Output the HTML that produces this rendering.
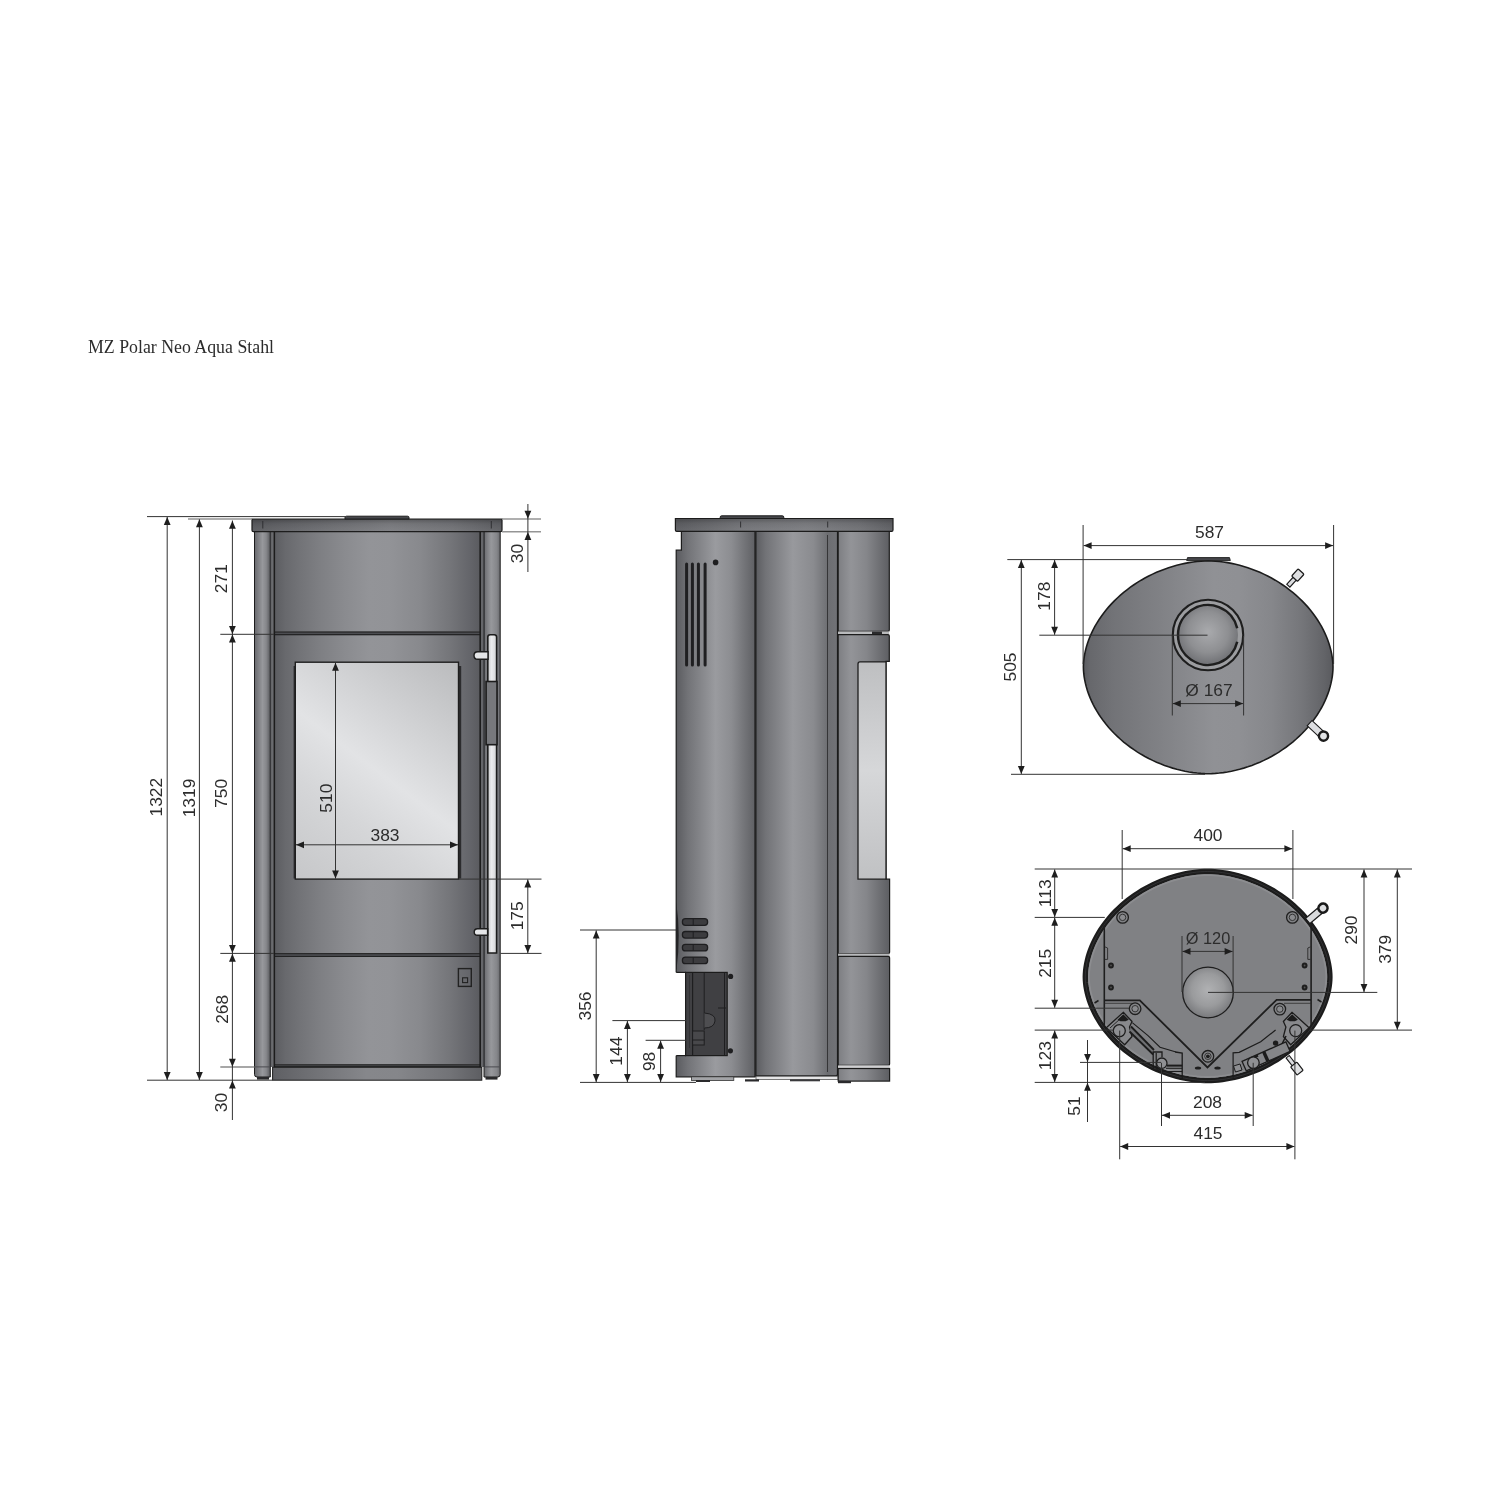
<!DOCTYPE html><html><head><meta charset="utf-8"><title>MZ Polar Neo Aqua Stahl</title>
<style>html,body{margin:0;padding:0;background:#fff;}svg{display:block;}text{font-family:"Liberation Sans",sans-serif;fill:#2c2c2c;}</style></head><body>
<svg style="will-change:transform" width="1500" height="1500" viewBox="0 0 1500 1500">
<rect width="1500" height="1500" fill="#fff"/>
<defs>
<linearGradient id="gPanel" gradientUnits="userSpaceOnUse" x1="275" y1="0" x2="480" y2="0">
<stop offset="0" stop-color="#5c5d61"/>
<stop offset="0.05" stop-color="#68696d"/>
<stop offset="0.12" stop-color="#727377"/>
<stop offset="0.22" stop-color="#7e7f83"/>
<stop offset="0.34" stop-color="#8a8b8f"/>
<stop offset="0.46" stop-color="#939498"/>
<stop offset="0.56" stop-color="#929397"/>
<stop offset="0.71" stop-color="#88898d"/>
<stop offset="0.85" stop-color="#75767a"/>
<stop offset="0.95" stop-color="#64656a"/>
<stop offset="1" stop-color="#5a5b5f"/>
</linearGradient>
<linearGradient id="gLegL" gradientUnits="userSpaceOnUse" x1="255" y1="0" x2="270" y2="0">
<stop offset="0" stop-color="#6a6b6f"/>
<stop offset="0.5" stop-color="#97989c"/>
<stop offset="0.75" stop-color="#86878b"/>
<stop offset="1" stop-color="#5c5d61"/>
</linearGradient>
<linearGradient id="gLegR" gradientUnits="userSpaceOnUse" x1="484" y1="0" x2="500" y2="0">
<stop offset="0" stop-color="#6a6b6f"/>
<stop offset="0.45" stop-color="#97989c"/>
<stop offset="0.8" stop-color="#85868a"/>
<stop offset="1" stop-color="#6a6b6f"/>
</linearGradient>
<linearGradient id="gCap" gradientUnits="userSpaceOnUse" x1="252" y1="0" x2="502" y2="0">
<stop offset="0" stop-color="#5a5b5f"/>
<stop offset="0.3" stop-color="#6e6f73"/>
<stop offset="0.55" stop-color="#7c7d81"/>
<stop offset="0.8" stop-color="#727377"/>
<stop offset="1" stop-color="#5d5e62"/>
</linearGradient>
<linearGradient id="gPlinth" gradientUnits="userSpaceOnUse" x1="272" y1="0" x2="482" y2="0">
<stop offset="0" stop-color="#5e5f63"/>
<stop offset="0.15" stop-color="#6c6d71"/>
<stop offset="0.45" stop-color="#86878b"/>
<stop offset="0.6" stop-color="#85868a"/>
<stop offset="0.85" stop-color="#727377"/>
<stop offset="1" stop-color="#5d5e62"/>
</linearGradient>
<linearGradient id="gRear" gradientUnits="userSpaceOnUse" x1="676" y1="0" x2="755" y2="0">
<stop offset="0" stop-color="#5a5b5f"/>
<stop offset="0.15" stop-color="#727377"/>
<stop offset="0.5" stop-color="#9a9b9f"/>
<stop offset="0.7" stop-color="#8c8d91"/>
<stop offset="1" stop-color="#5f6064"/>
</linearGradient>
<linearGradient id="gMid" gradientUnits="userSpaceOnUse" x1="756" y1="0" x2="838" y2="0">
<stop offset="0" stop-color="#5c5d61"/>
<stop offset="0.12" stop-color="#727377"/>
<stop offset="0.45" stop-color="#98999d"/>
<stop offset="0.7" stop-color="#8a8b8f"/>
<stop offset="0.85" stop-color="#727377"/>
<stop offset="0.87" stop-color="#6c6d71"/>
<stop offset="1" stop-color="#727377"/>
</linearGradient>
<linearGradient id="gFront" gradientUnits="userSpaceOnUse" x1="838" y1="0" x2="890" y2="0">
<stop offset="0" stop-color="#7d7e82"/>
<stop offset="0.25" stop-color="#939498"/>
<stop offset="0.55" stop-color="#85868a"/>
<stop offset="1" stop-color="#5c5d61"/>
</linearGradient>
<linearGradient id="gSideCap" gradientUnits="userSpaceOnUse" x1="675" y1="0" x2="893" y2="0">
<stop offset="0" stop-color="#5c5d61"/>
<stop offset="0.3" stop-color="#747579"/>
<stop offset="0.6" stop-color="#7c7d81"/>
<stop offset="0.85" stop-color="#707175"/>
<stop offset="1" stop-color="#5e5f63"/>
</linearGradient>
<linearGradient id="gTop" gradientUnits="userSpaceOnUse" x1="1083" y1="0" x2="1334" y2="0">
<stop offset="0" stop-color="#5a5b5f"/>
<stop offset="0.03" stop-color="#67686c"/>
<stop offset="0.12" stop-color="#727377"/>
<stop offset="0.25" stop-color="#7c7d81"/>
<stop offset="0.4" stop-color="#87888c"/>
<stop offset="0.52" stop-color="#909195"/>
<stop offset="0.62" stop-color="#8f9094"/>
<stop offset="0.75" stop-color="#86878b"/>
<stop offset="0.87" stop-color="#75767a"/>
<stop offset="0.96" stop-color="#636468"/>
<stop offset="1" stop-color="#58595d"/>
</linearGradient>
<radialGradient id="gFlue" cx="1208" cy="632" r="34" gradientUnits="userSpaceOnUse"><stop offset="0" stop-color="#a9aaad"/><stop offset="0.6" stop-color="#8e8f92"/><stop offset="1" stop-color="#6c6d71"/></radialGradient>
<radialGradient id="gHole" cx="1208" cy="990" r="27" gradientUnits="userSpaceOnUse"><stop offset="0" stop-color="#b0b1b3"/><stop offset="0.6" stop-color="#9a9b9d"/><stop offset="1" stop-color="#7b7c7f"/></radialGradient>
<linearGradient id="gGlass" gradientUnits="userSpaceOnUse" x1="295" y1="879" x2="458" y2="662"><stop offset="0" stop-color="#c6c7c9"/><stop offset="0.3" stop-color="#d5d6d8"/><stop offset="0.5" stop-color="#e2e3e5"/><stop offset="0.7" stop-color="#d2d3d5"/><stop offset="1" stop-color="#babbbd"/></linearGradient>
<linearGradient id="gGlassS" gradientUnits="userSpaceOnUse" x1="0" y1="662" x2="0" y2="879"><stop offset="0" stop-color="#bebfc1"/><stop offset="0.5" stop-color="#d6d7d9"/><stop offset="1" stop-color="#c0c1c3"/></linearGradient>
<linearGradient id="gHandle" gradientUnits="userSpaceOnUse" x1="488" y1="0" x2="497" y2="0"><stop offset="0" stop-color="#c9cacc"/><stop offset="0.4" stop-color="#ececee"/><stop offset="1" stop-color="#cfd0d2"/></linearGradient>
<linearGradient id="gCapV" x1="0" y1="0" x2="0" y2="1"><stop offset="0" stop-color="#000" stop-opacity="0.22"/><stop offset="0.35" stop-color="#000" stop-opacity="0.05"/><stop offset="1" stop-color="#fff" stop-opacity="0.04"/></linearGradient>
</defs>
<text x="88" y="352.5" font-size="18" style="font-family:'Liberation Serif',serif" textLength="186" lengthAdjust="spacingAndGlyphs" fill="#222">MZ Polar Neo Aqua Stahl</text>
<g id="front">
<path d="M345,519.5 L345,517.5 Q345,516.2 346.5,516.2 L407.5,516.2 Q409,516.2 409,517.5 L409,519.5 Z" fill="#47484c" stroke="#1c1c1c" stroke-width="1"/>
<path d="M254.5,531 L270.3,531 L270.3,1077 L257,1077 Q254.5,1077 254.5,1074.5 Z" fill="url(#gLegL)" stroke="#1c1c1c" stroke-width="1"/>
<path d="M484,531 L500.2,531 L500.2,1074.5 Q500.2,1077 497.7,1077 L484,1077 Z" fill="url(#gLegR)" stroke="#1c1c1c" stroke-width="1"/>
<rect x="257" y="1077" width="12" height="2.6" fill="#2a2a2c"/>
<rect x="485.5" y="1077" width="12" height="2.6" fill="#2a2a2c"/>
<line x1="255" y1="1066.9" x2="270" y2="1066.9" stroke="#4a4b4f" stroke-width="1"/>
<line x1="484.5" y1="1066.9" x2="499.7" y2="1066.9" stroke="#4a4b4f" stroke-width="1"/>
<rect x="270.3" y="531" width="3.6" height="536" fill="#6a6b6f"/>
<rect x="480.2" y="531" width="3.8" height="536" fill="#65666a"/>
<line x1="270.6" y1="531" x2="270.6" y2="1067" stroke="#2a2a2c" stroke-width="0.8"/>
<line x1="483.8" y1="531" x2="483.8" y2="1067" stroke="#2a2a2c" stroke-width="0.8"/>
<rect x="274.5" y="531" width="205.7" height="100.8" fill="url(#gPanel)"/>
<rect x="274.5" y="635" width="205.7" height="318.3" fill="url(#gPanel)"/>
<rect x="274.5" y="956.8" width="205.7" height="107.6" fill="url(#gPanel)"/>
<rect x="274" y="631.5" width="206.5" height="3.7000000000000455" fill="#4c4d51"/>
<line x1="274" y1="632.0" x2="480.5" y2="632.0" stroke="#1c1c1c" stroke-width="1"/>
<line x1="274" y1="634.7" x2="480.5" y2="634.7" stroke="#1c1c1c" stroke-width="1"/>
<rect x="274" y="953.2" width="206.5" height="3.699999999999932" fill="#4c4d51"/>
<line x1="274" y1="953.7" x2="480.5" y2="953.7" stroke="#1c1c1c" stroke-width="1"/>
<line x1="274" y1="956.4" x2="480.5" y2="956.4" stroke="#1c1c1c" stroke-width="1"/>
<rect x="274" y="1064.3" width="206.5" height="3.0" fill="#4c4d51"/>
<line x1="274" y1="1064.8" x2="480.5" y2="1064.8" stroke="#1c1c1c" stroke-width="1"/>
<line x1="274" y1="1066.8" x2="480.5" y2="1066.8" stroke="#1c1c1c" stroke-width="1"/>
<line x1="274.3" y1="531" x2="274.3" y2="1067.3" stroke="#1c1c1c" stroke-width="1.6"/>
<line x1="480.2" y1="531" x2="480.2" y2="1067.3" stroke="#1c1c1c" stroke-width="1.6"/>
<rect x="272.6" y="1067.3" width="209.2" height="12.9" fill="url(#gPlinth)" stroke="#1c1c1c" stroke-width="1"/>
<path d="M252,519.2 L502,519.2 L502,530.3 Q502,531.7 500.6,531.7 L253.4,531.7 Q252,531.7 252,530.3 Z" fill="url(#gCap)" stroke="#1c1c1c" stroke-width="1.2"/>
<rect x="252.6" y="519.8" width="248.8" height="11.3" fill="url(#gCapV)"/>
<line x1="262.8" y1="521" x2="262.8" y2="528.5" stroke="#2a2a2c" stroke-width="0.9"/>
<line x1="491.3" y1="521" x2="491.3" y2="528.5" stroke="#2a2a2c" stroke-width="0.9"/>
<rect x="293.6" y="666" width="167.6" height="212.5" fill="#2c2c2e"/>
<rect x="295.3" y="662.2" width="163.2" height="216.9" fill="url(#gGlass)" stroke="#1e1e1e" stroke-width="1.4"/>
<path d="M487.8,953 L487.8,637 Q487.8,634.7 490.1,634.7 L494.3,634.7 Q496.6,634.7 496.6,637 L496.6,953 Z" fill="url(#gHandle)" stroke="#1c1c1c" stroke-width="1.6"/>
<rect x="486.1" y="681.5" width="10.9" height="63.2" fill="#77787c" stroke="#1c1c1c" stroke-width="1.6"/>
<path d="M488,651.8 L477.8,651.8 Q474,651.8 474,655.5 Q474,659.3 477.8,659.3 L488,659.3 Z" fill="#e4e5e7" stroke="#1c1c1c" stroke-width="1.4"/>
<path d="M487.6,928.7 L477.6,928.7 Q474.2,928.7 474.2,931.9 Q474.2,935.2 477.6,935.2 L487.6,935.2 Z" fill="#e4e5e7" stroke="#1c1c1c" stroke-width="1.4"/>
<rect x="458.4" y="968.6" width="12.9" height="17.8" fill="none" stroke="#222" stroke-width="1.4"/>
<rect x="462.6" y="977.8" width="5" height="4.8" fill="none" stroke="#222" stroke-width="1.1"/>
</g>
<line x1="147" y1="516.6" x2="345" y2="516.6" stroke="#333333" stroke-width="1.0"/>
<line x1="188" y1="519.0" x2="252" y2="519.0" stroke="#959595" stroke-width="1.4"/>
<line x1="220.3" y1="634.3" x2="274" y2="634.3" stroke="#333333" stroke-width="1.0"/>
<line x1="220.3" y1="953.4" x2="274" y2="953.4" stroke="#333333" stroke-width="1.0"/>
<line x1="220.3" y1="1067.0" x2="254.5" y2="1067.0" stroke="#8a8a8a" stroke-width="1.5"/>
<line x1="147" y1="1080.2" x2="272.6" y2="1080.2" stroke="#333333" stroke-width="1.0"/>
<line x1="502" y1="519.0" x2="541" y2="519.0" stroke="#959595" stroke-width="1.4"/>
<line x1="502" y1="531.8" x2="541" y2="531.8" stroke="#959595" stroke-width="1.4"/>
<line x1="458.5" y1="879.1" x2="541.5" y2="879.1" stroke="#333333" stroke-width="1.0"/>
<line x1="500.5" y1="953.4" x2="541.5" y2="953.4" stroke="#333333" stroke-width="1.0"/>
<line x1="167.2" y1="517.0" x2="167.2" y2="1080.0" stroke="#333333" stroke-width="1.0"/>
<path d="M167.20,517.00L170.60,525.00L163.80,525.00Z" fill="#1e1e1e"/>
<path d="M167.20,1080.00L163.80,1072.00L170.60,1072.00Z" fill="#1e1e1e"/>
<line x1="199.4" y1="519.3" x2="199.4" y2="1080.0" stroke="#333333" stroke-width="1.0"/>
<path d="M199.40,519.30L202.80,527.30L196.00,527.30Z" fill="#1e1e1e"/>
<path d="M199.40,1080.00L196.00,1072.00L202.80,1072.00Z" fill="#1e1e1e"/>
<line x1="232.4" y1="520.5" x2="232.4" y2="1120" stroke="#333333" stroke-width="1.0"/>
<path d="M232.40,520.80L235.80,528.80L229.00,528.80Z" fill="#1e1e1e"/>
<path d="M232.40,634.00L229.00,626.00L235.80,626.00Z" fill="#1e1e1e"/>
<path d="M232.40,634.60L235.80,642.60L229.00,642.60Z" fill="#1e1e1e"/>
<path d="M232.40,953.10L229.00,945.10L235.80,945.10Z" fill="#1e1e1e"/>
<path d="M232.40,953.70L235.80,961.70L229.00,961.70Z" fill="#1e1e1e"/>
<path d="M232.40,1066.80L229.00,1058.80L235.80,1058.80Z" fill="#1e1e1e"/>
<path d="M232.40,1080.40L235.80,1088.40L229.00,1088.40Z" fill="#1e1e1e"/>
<line x1="527.9" y1="504" x2="527.9" y2="572" stroke="#333333" stroke-width="1.0"/>
<path d="M527.90,518.80L524.50,510.80L531.30,510.80Z" fill="#1e1e1e"/>
<path d="M527.90,532.00L531.30,540.00L524.50,540.00Z" fill="#1e1e1e"/>
<line x1="527.8" y1="879.4" x2="527.8" y2="953.1" stroke="#333333" stroke-width="1.0"/>
<path d="M527.80,879.40L531.20,887.40L524.40,887.40Z" fill="#1e1e1e"/>
<path d="M527.80,953.10L524.40,945.10L531.20,945.10Z" fill="#1e1e1e"/>
<line x1="335.5" y1="662.8" x2="335.5" y2="878.6" stroke="#333333" stroke-width="1.0"/>
<path d="M335.50,662.80L338.90,670.80L332.10,670.80Z" fill="#1e1e1e"/>
<path d="M335.50,878.60L332.10,870.60L338.90,870.60Z" fill="#1e1e1e"/>
<line x1="296.0" y1="844.8" x2="458.0" y2="844.8" stroke="#333333" stroke-width="1.0"/>
<path d="M296.00,844.80L304.00,841.40L304.00,848.20Z" fill="#1e1e1e"/>
<path d="M458.00,844.80L450.00,848.20L450.00,841.40Z" fill="#1e1e1e"/>
<text transform="translate(161.6,797.2) rotate(-90)" text-anchor="middle" font-size="17.4">1322</text>
<text transform="translate(194.8,798.0) rotate(-90)" text-anchor="middle" font-size="17.4">1319</text>
<text transform="translate(227.2,793.4) rotate(-90)" text-anchor="middle" font-size="17.4">750</text>
<text transform="translate(227.3,578.7) rotate(-90)" text-anchor="middle" font-size="17.4">271</text>
<text transform="translate(227.5,1009.3) rotate(-90)" text-anchor="middle" font-size="17.4">268</text>
<text transform="translate(227.0,1102.6) rotate(-90)" text-anchor="middle" font-size="17.4">30</text>
<text transform="translate(522.8,553.5) rotate(-90)" text-anchor="middle" font-size="17.4">30</text>
<text transform="translate(523.2,915.8) rotate(-90)" text-anchor="middle" font-size="17.4">175</text>
<text transform="translate(332.1,798.2) rotate(-90)" text-anchor="middle" font-size="17.4">510</text>
<text x="385.0" y="840.5" text-anchor="middle" font-size="17.4">383</text>
<g id="side">
<path d="M720.2,519 L720.2,517.2 Q720.2,515.8 721.6,515.8 L782.4,515.8 Q783.8,515.8 783.8,517.2 L783.8,519 Z" fill="#47484c" stroke="#1c1c1c" stroke-width="1"/>
<path d="M681.4,531 L755,531 L755,1076.8 L676.2,1076.8 L676.2,550.2 L681.4,550.2 Z" fill="url(#gRear)" stroke="#1c1c1c" stroke-width="1.2"/>
<path d="M676.2,902 Q681,935 676.6,969 L676.2,969 Z" fill="#242426"/>
<rect x="674.4" y="972.4" width="11" height="83.2" fill="#fff"/>
<line x1="676.2" y1="972.4" x2="686" y2="972.4" stroke="#1c1c1c" stroke-width="1.2"/>
<line x1="676.2" y1="1055.6" x2="686" y2="1055.6" stroke="#1c1c1c" stroke-width="1.2"/>
<rect x="685.6" y="972.4" width="41.6" height="83.2" fill="#404043" stroke="#1c1c1c" stroke-width="1.2"/>
<line x1="692.6" y1="973" x2="692.6" y2="1055" stroke="#1e1e20" stroke-width="1.2"/>
<line x1="704.2" y1="973" x2="704.2" y2="1030" stroke="#1e1e20" stroke-width="1"/>
<line x1="724.5" y1="973" x2="724.5" y2="1055" stroke="#1e1e20" stroke-width="1"/>
<line x1="689.5" y1="975" x2="689.5" y2="1048" stroke="#2a2a2c" stroke-width="0.6"/>
<rect x="692.6" y="1031" width="11.6" height="14" fill="#48484b" stroke="#1e1e20" stroke-width="1"/>
<line x1="692.6" y1="1040" x2="704.2" y2="1040" stroke="#1e1e20" stroke-width="1"/>
<path d="M704.5,1013 Q716,1014 715,1021 Q714,1028 704.5,1028" fill="#4e4e51" stroke="#1e1e20" stroke-width="1"/>
<path d="M718,1008 L726,1008" stroke="#1e1e20" stroke-width="1"/>
<circle cx="730.6" cy="976.4" r="2.6" fill="#1e1e20"/>
<circle cx="730.4" cy="1050.8" r="2.6" fill="#1e1e20"/>
<circle cx="715.6" cy="562.4" r="2.8" fill="#1e1e20"/>
<rect x="685.1" y="562.6" width="3" height="104" rx="1.5" fill="#1f1f21"/>
<rect x="690.9" y="562.6" width="3" height="104" rx="1.5" fill="#1f1f21"/>
<rect x="696.9" y="562.6" width="3" height="104" rx="1.5" fill="#1f1f21"/>
<rect x="703.6" y="562.6" width="3" height="104" rx="1.5" fill="#1f1f21"/>
<rect x="682.4" y="918.7" width="25.2" height="6.6" rx="3" fill="#3c3c3f" stroke="#1e1e20" stroke-width="1.3"/>
<line x1="693.2" y1="919.0" x2="693.2" y2="925.0" stroke="#1e1e20" stroke-width="1"/>
<rect x="682.4" y="931.5" width="25.2" height="6.6" rx="3" fill="#3c3c3f" stroke="#1e1e20" stroke-width="1.3"/>
<line x1="693.2" y1="931.8" x2="693.2" y2="937.8" stroke="#1e1e20" stroke-width="1"/>
<rect x="682.4" y="944.3000000000001" width="25.2" height="6.6" rx="3" fill="#3c3c3f" stroke="#1e1e20" stroke-width="1.3"/>
<line x1="693.2" y1="944.6" x2="693.2" y2="950.6" stroke="#1e1e20" stroke-width="1"/>
<rect x="682.4" y="957.1" width="25.2" height="6.6" rx="3" fill="#3c3c3f" stroke="#1e1e20" stroke-width="1.3"/>
<line x1="693.2" y1="957.4" x2="693.2" y2="963.4" stroke="#1e1e20" stroke-width="1"/>
<rect x="691.4" y="1076.8" width="42.4" height="3.6" fill="#a3a4a7" stroke="#333" stroke-width="0.8"/>
<rect x="696" y="1080" width="14" height="2" fill="#2a2a2c"/>
<path d="M755.8,531 L837.6,531 L837.6,1074 Q837.6,1076 835.6,1076 L755.8,1076 Z" fill="url(#gMid)" stroke="#1c1c1c" stroke-width="1.4"/>
<line x1="827.5" y1="535" x2="827.5" y2="1072" stroke="#2f2f31" stroke-width="0.9"/>
<rect x="756" y="1076.2" width="82" height="3.3" fill="#e5e5e6" stroke="#444" stroke-width="0.7"/>
<rect x="745" y="1079.3" width="14" height="2.2" fill="#2a2a2c"/>
<rect x="790" y="1079.3" width="30" height="2" fill="#3a3a3c"/>
<path d="M838.2,531 L889.3,531 L889.3,630 Q889.3,631.4 887.9,631.4 L838.2,631.4 Z" fill="url(#gFront)" stroke="#1c1c1c" stroke-width="1.2"/>
<rect x="838.2" y="631.4" width="51" height="3.2" fill="#b9babc"/>
<rect x="872" y="631.6" width="10" height="2.8" fill="#2a2a2c"/>
<path d="M838.2,634.6 L887.9,634.6 Q889.3,634.6 889.3,636 L889.3,661.3 L886,661.3 L886,879.2 L889.6,879.2 L889.6,952.2 Q889.6,953.6 888.2,953.6 L838.2,953.6 Z" fill="url(#gFront)" stroke="#1c1c1c" stroke-width="1.2"/>
<path d="M860,661.9 L886,661.9 L886,879.2 L858,879.2 L858,663.9 Q858,661.9 860,661.9 Z" fill="url(#gGlassS)" stroke="#1e1e1e" stroke-width="1.3"/>
<rect x="838.2" y="953.6" width="51.4" height="2.8" fill="#b9babc"/>
<path d="M838.2,956.4 L888.2,956.4 Q889.6,956.4 889.6,957.8 L889.6,1064 Q889.6,1065.3 888.2,1065.3 L838.2,1065.3 Z" fill="url(#gFront)" stroke="#1c1c1c" stroke-width="1.2"/>
<rect x="838.2" y="1065.3" width="51.4" height="3.2" fill="#d0d0d2"/>
<rect x="838.2" y="1068.5" width="51.4" height="12.6" fill="url(#gFront)" stroke="#1c1c1c" stroke-width="1.2"/>
<rect x="838" y="1081" width="13" height="2.2" fill="#2a2a2c"/>
<path d="M675.4,518.5 L893,518.5 L893,530 Q893,531.3 891.7,531.3 L676.7,531.3 Q675.4,531.3 675.4,530 Z" fill="url(#gSideCap)" stroke="#1c1c1c" stroke-width="1.2"/>
<rect x="676" y="519.1" width="216.4" height="11.6" fill="url(#gCapV)"/>
<line x1="740.6" y1="521.5" x2="740.6" y2="527.5" stroke="#2a2a2c" stroke-width="0.9"/>
<line x1="827.7" y1="521.5" x2="827.7" y2="527.5" stroke="#2a2a2c" stroke-width="0.9"/>
</g>
<line x1="580" y1="930.0" x2="676.2" y2="930.0" stroke="#333333" stroke-width="1.0"/>
<line x1="612.4" y1="1020.6" x2="686" y2="1020.6" stroke="#333333" stroke-width="1.0"/>
<line x1="645.6" y1="1040.3" x2="686" y2="1040.3" stroke="#333333" stroke-width="1.0"/>
<line x1="580" y1="1082.4" x2="696" y2="1082.4" stroke="#333333" stroke-width="1.0"/>
<line x1="596.2" y1="930.4" x2="596.2" y2="1082.0" stroke="#333333" stroke-width="1.0"/>
<path d="M596.20,930.40L599.60,938.40L592.80,938.40Z" fill="#1e1e1e"/>
<path d="M596.20,1082.00L592.80,1074.00L599.60,1074.00Z" fill="#1e1e1e"/>
<line x1="627.4" y1="1021.0" x2="627.4" y2="1082.0" stroke="#333333" stroke-width="1.0"/>
<path d="M627.40,1021.00L630.80,1029.00L624.00,1029.00Z" fill="#1e1e1e"/>
<path d="M627.40,1082.00L624.00,1074.00L630.80,1074.00Z" fill="#1e1e1e"/>
<line x1="660.6" y1="1040.7" x2="660.6" y2="1082.0" stroke="#333333" stroke-width="1.0"/>
<path d="M660.60,1040.70L664.00,1048.70L657.20,1048.70Z" fill="#1e1e1e"/>
<path d="M660.60,1082.00L657.20,1074.00L664.00,1074.00Z" fill="#1e1e1e"/>
<text transform="translate(591.0,1006.0) rotate(-90)" text-anchor="middle" font-size="17.4">356</text>
<text transform="translate(621.6,1051.2) rotate(-90)" text-anchor="middle" font-size="17.4">144</text>
<text transform="translate(655.2,1061.4) rotate(-90)" text-anchor="middle" font-size="17.4">98</text>
<g id="top">
<path d="M1333.00,667.00 L1332.92,669.95 L1332.67,673.19 L1332.27,676.53 L1331.70,679.95 L1330.97,683.41 L1330.09,686.89 L1329.04,690.39 L1327.84,693.89 L1326.48,697.39 L1324.97,700.87 L1323.31,704.33 L1321.50,707.77 L1319.54,711.17 L1317.44,714.53 L1315.20,717.84 L1312.83,721.10 L1310.32,724.30 L1307.69,727.44 L1304.93,730.51 L1302.05,733.51 L1299.05,736.43 L1295.94,739.27 L1292.73,742.02 L1289.41,744.67 L1285.99,747.24 L1282.49,749.70 L1278.90,752.06 L1275.22,754.31 L1271.48,756.46 L1267.66,758.49 L1263.79,760.40 L1259.86,762.19 L1255.88,763.86 L1251.87,765.41 L1247.82,766.83 L1243.74,768.12 L1239.65,769.29 L1235.56,770.31 L1231.46,771.21 L1227.39,771.97 L1223.34,772.59 L1219.35,773.07 L1215.43,773.42 L1211.65,773.63 L1208.20,773.70 L1204.75,773.63 L1200.97,773.42 L1197.05,773.07 L1193.06,772.59 L1189.01,771.97 L1184.94,771.21 L1180.84,770.31 L1176.75,769.29 L1172.66,768.12 L1168.58,766.83 L1164.53,765.41 L1160.52,763.86 L1156.54,762.19 L1152.61,760.40 L1148.74,758.49 L1144.92,756.46 L1141.18,754.31 L1137.50,752.06 L1133.91,749.70 L1130.41,747.24 L1126.99,744.67 L1123.67,742.02 L1120.46,739.27 L1117.35,736.43 L1114.35,733.51 L1111.47,730.51 L1108.71,727.44 L1106.08,724.30 L1103.57,721.10 L1101.20,717.84 L1098.96,714.53 L1096.86,711.17 L1094.90,707.77 L1093.09,704.33 L1091.43,700.87 L1089.92,697.39 L1088.56,693.89 L1087.36,690.39 L1086.31,686.89 L1085.43,683.41 L1084.70,679.95 L1084.13,676.53 L1083.73,673.19 L1083.48,669.95 L1083.40,667.00 L1083.48,664.07 L1083.73,660.85 L1084.13,657.52 L1084.70,654.13 L1085.43,650.69 L1086.31,647.22 L1087.36,643.74 L1088.56,640.26 L1089.92,636.78 L1091.43,633.32 L1093.09,629.88 L1094.90,626.46 L1096.86,623.08 L1098.96,619.74 L1101.20,616.45 L1103.57,613.20 L1106.08,610.02 L1108.71,606.90 L1111.47,603.84 L1114.35,600.86 L1117.35,597.96 L1120.46,595.14 L1123.67,592.41 L1126.99,589.76 L1130.41,587.21 L1133.91,584.77 L1137.50,582.42 L1141.18,580.18 L1144.92,578.05 L1148.74,576.03 L1152.61,574.13 L1156.54,572.34 L1160.52,570.68 L1164.53,569.14 L1168.58,567.73 L1172.66,566.44 L1176.75,565.29 L1180.84,564.27 L1184.94,563.38 L1189.01,562.62 L1193.06,562.00 L1197.05,561.52 L1200.97,561.18 L1204.75,560.97 L1208.20,560.90 L1211.65,560.97 L1215.43,561.18 L1219.35,561.52 L1223.34,562.00 L1227.39,562.62 L1231.46,563.38 L1235.56,564.27 L1239.65,565.29 L1243.74,566.44 L1247.82,567.73 L1251.87,569.14 L1255.88,570.68 L1259.86,572.34 L1263.79,574.13 L1267.66,576.03 L1271.48,578.05 L1275.22,580.18 L1278.90,582.42 L1282.49,584.77 L1285.99,587.21 L1289.41,589.76 L1292.73,592.41 L1295.94,595.14 L1299.05,597.96 L1302.05,600.86 L1304.93,603.84 L1307.69,606.90 L1310.32,610.02 L1312.83,613.20 L1315.20,616.45 L1317.44,619.74 L1319.54,623.08 L1321.50,626.46 L1323.31,629.88 L1324.97,633.32 L1326.48,636.78 L1327.84,640.26 L1329.04,643.74 L1330.09,647.22 L1330.97,650.69 L1331.70,654.13 L1332.27,657.52 L1332.67,660.85 L1332.92,664.07 Z" fill="url(#gTop)" stroke="#1c1c1c" stroke-width="1.6"/>
<path d="M1186.7,560.6 L1187.5,557.6 L1229.5,557.6 L1230.3,560.6 Z" fill="#45464a" stroke="#1c1c1c" stroke-width="0.9"/>
<g transform="translate(1297.7,575.3) rotate(-48)"><rect x="-14" y="-2.1" width="10" height="4.2" fill="#dcdde0" stroke="#1c1c1c" stroke-width="1.1"/><rect x="-4.6" y="-4.0" width="9.6" height="8.0" rx="1" fill="#dedfe1" stroke="#1c1c1c" stroke-width="1.3"/></g>
<g transform="translate(1323.5,736.1) rotate(43)"><rect x="-19" y="-3.5" width="15" height="7.0" fill="#dcdde0" stroke="#1c1c1c" stroke-width="1.1"/><circle cx="0" cy="0" r="4.6" fill="#e2e3e5" stroke="#1c1c1c" stroke-width="2.4"/></g>
<circle cx="1208.0" cy="635.0" r="35.2" fill="#9c9da0" stroke="#1e1e1e" stroke-width="2.1"/>
<circle cx="1208.0" cy="635.0" r="30" fill="url(#gFlue)"/>
<path d="M1237.23,628.25 A30,30 0 1 0 1237.23,641.75" fill="none" stroke="#1e1e1e" stroke-width="2.5"/>
</g>
<line x1="1007.3" y1="559.6" x2="1187" y2="559.6" stroke="#333333" stroke-width="1.0"/>
<line x1="1039.3" y1="635.2" x2="1207.5" y2="635.2" stroke="#333333" stroke-width="1.0"/>
<line x1="1011" y1="774.3" x2="1205" y2="774.3" stroke="#333333" stroke-width="1.0"/>
<line x1="1083.1" y1="525" x2="1083.1" y2="664" stroke="#333333" stroke-width="1.0"/>
<line x1="1333.6" y1="525" x2="1333.6" y2="664" stroke="#333333" stroke-width="1.0"/>
<line x1="1083.6" y1="545.6" x2="1333.1" y2="545.6" stroke="#333333" stroke-width="1.0"/>
<path d="M1083.60,545.60L1091.60,542.20L1091.60,549.00Z" fill="#1e1e1e"/>
<path d="M1333.10,545.60L1325.10,549.00L1325.10,542.20Z" fill="#1e1e1e"/>
<line x1="1021.3" y1="560.0" x2="1021.3" y2="773.9" stroke="#333333" stroke-width="1.0"/>
<path d="M1021.30,560.00L1024.70,568.00L1017.90,568.00Z" fill="#1e1e1e"/>
<path d="M1021.30,773.90L1017.90,765.90L1024.70,765.90Z" fill="#1e1e1e"/>
<line x1="1054.6" y1="560.0" x2="1054.6" y2="634.8" stroke="#333333" stroke-width="1.0"/>
<path d="M1054.60,560.00L1058.00,568.00L1051.20,568.00Z" fill="#1e1e1e"/>
<path d="M1054.60,634.80L1051.20,626.80L1058.00,626.80Z" fill="#1e1e1e"/>
<line x1="1172.3" y1="636" x2="1172.3" y2="715.5" stroke="#333333" stroke-width="1.0"/>
<line x1="1243.6" y1="636" x2="1243.6" y2="715.5" stroke="#333333" stroke-width="1.0"/>
<line x1="1172.8" y1="703.6" x2="1243.1" y2="703.6" stroke="#333333" stroke-width="1.0"/>
<path d="M1172.80,703.60L1180.80,700.20L1180.80,707.00Z" fill="#1e1e1e"/>
<path d="M1243.10,703.60L1235.10,707.00L1235.10,700.20Z" fill="#1e1e1e"/>
<text x="1209.5" y="538.2" text-anchor="middle" font-size="17.4">587</text>
<text transform="translate(1015.9,667.0) rotate(-90)" text-anchor="middle" font-size="17.4">505</text>
<text transform="translate(1049.7,596.2) rotate(-90)" text-anchor="middle" font-size="17.4">178</text>
<text x="1209.0" y="695.9" text-anchor="middle" font-size="17.4">Ø 167</text>
<g id="bottom">
<path d="M1329.90,977.00 L1329.82,979.86 L1329.58,983.01 L1329.18,986.26 L1328.63,989.57 L1327.91,992.93 L1327.04,996.31 L1326.02,999.71 L1324.84,1003.11 L1323.51,1006.50 L1322.03,1009.89 L1320.40,1013.25 L1318.63,1016.58 L1316.71,1019.88 L1314.65,1023.15 L1312.46,1026.36 L1310.13,1029.53 L1307.68,1032.64 L1305.10,1035.69 L1302.39,1038.67 L1299.57,1041.58 L1296.63,1044.41 L1293.58,1047.17 L1290.43,1049.84 L1287.18,1052.42 L1283.83,1054.91 L1280.40,1057.30 L1276.88,1059.59 L1273.28,1061.78 L1269.61,1063.86 L1265.87,1065.83 L1262.08,1067.69 L1258.23,1069.43 L1254.33,1071.05 L1250.39,1072.55 L1246.42,1073.93 L1242.43,1075.19 L1238.42,1076.31 L1234.41,1077.31 L1230.40,1078.18 L1226.40,1078.92 L1222.44,1079.52 L1218.53,1079.99 L1214.69,1080.33 L1210.98,1080.53 L1207.60,1080.60 L1204.22,1080.53 L1200.51,1080.33 L1196.67,1079.99 L1192.76,1079.52 L1188.80,1078.92 L1184.80,1078.18 L1180.79,1077.31 L1176.78,1076.31 L1172.77,1075.19 L1168.78,1073.93 L1164.81,1072.55 L1160.87,1071.05 L1156.97,1069.43 L1153.12,1067.69 L1149.33,1065.83 L1145.59,1063.86 L1141.92,1061.78 L1138.32,1059.59 L1134.80,1057.30 L1131.37,1054.91 L1128.02,1052.42 L1124.77,1049.84 L1121.62,1047.17 L1118.57,1044.41 L1115.63,1041.58 L1112.81,1038.67 L1110.10,1035.69 L1107.52,1032.64 L1105.07,1029.53 L1102.74,1026.36 L1100.55,1023.15 L1098.49,1019.88 L1096.57,1016.58 L1094.80,1013.25 L1093.17,1009.89 L1091.69,1006.50 L1090.36,1003.11 L1089.18,999.71 L1088.16,996.31 L1087.29,992.93 L1086.57,989.57 L1086.02,986.26 L1085.62,983.01 L1085.38,979.86 L1085.30,977.00 L1085.38,974.08 L1085.62,970.88 L1086.02,967.57 L1086.57,964.20 L1087.29,960.78 L1088.16,957.33 L1089.18,953.88 L1090.36,950.41 L1091.69,946.95 L1093.17,943.51 L1094.80,940.09 L1096.57,936.69 L1098.49,933.33 L1100.55,930.01 L1102.74,926.73 L1105.07,923.51 L1107.52,920.34 L1110.10,917.24 L1112.81,914.20 L1115.63,911.24 L1118.57,908.35 L1121.62,905.55 L1124.77,902.83 L1128.02,900.20 L1131.37,897.67 L1134.80,895.23 L1138.32,892.90 L1141.92,890.67 L1145.59,888.55 L1149.33,886.54 L1153.12,884.65 L1156.97,882.88 L1160.87,881.22 L1164.81,879.69 L1168.78,878.29 L1172.77,877.01 L1176.78,875.87 L1180.79,874.85 L1184.80,873.96 L1188.80,873.21 L1192.76,872.60 L1196.67,872.12 L1200.51,871.77 L1204.22,871.57 L1207.60,871.50 L1210.98,871.57 L1214.69,871.77 L1218.53,872.12 L1222.44,872.60 L1226.40,873.21 L1230.40,873.96 L1234.41,874.85 L1238.42,875.87 L1242.43,877.01 L1246.42,878.29 L1250.39,879.69 L1254.33,881.22 L1258.23,882.88 L1262.08,884.65 L1265.87,886.54 L1269.61,888.55 L1273.28,890.67 L1276.88,892.90 L1280.40,895.23 L1283.83,897.67 L1287.18,900.20 L1290.43,902.83 L1293.58,905.55 L1296.63,908.35 L1299.57,911.24 L1302.39,914.20 L1305.10,917.24 L1307.68,920.34 L1310.13,923.51 L1312.46,926.73 L1314.65,930.01 L1316.71,933.33 L1318.63,936.69 L1320.40,940.09 L1322.03,943.51 L1323.51,946.95 L1324.84,950.41 L1326.02,953.88 L1327.04,957.33 L1327.91,960.78 L1328.63,964.20 L1329.18,967.57 L1329.58,970.88 L1329.82,974.08 Z" fill="#808184" stroke="#1c1c1c" stroke-width="5.4"/>
<path d="M1329.90,977.00 L1329.82,979.86 L1329.58,983.01 L1329.18,986.26 L1328.63,989.57 L1327.91,992.93 L1327.04,996.31 L1326.02,999.71 L1324.84,1003.11 L1323.51,1006.50 L1322.03,1009.89 L1320.40,1013.25 L1318.63,1016.58 L1316.71,1019.88 L1314.65,1023.15 L1312.46,1026.36 L1310.13,1029.53 L1307.68,1032.64 L1305.10,1035.69 L1302.39,1038.67 L1299.57,1041.58 L1296.63,1044.41 L1293.58,1047.17 L1290.43,1049.84 L1287.18,1052.42 L1283.83,1054.91 L1280.40,1057.30 L1276.88,1059.59 L1273.28,1061.78 L1269.61,1063.86 L1265.87,1065.83 L1262.08,1067.69 L1258.23,1069.43 L1254.33,1071.05 L1250.39,1072.55 L1246.42,1073.93 L1242.43,1075.19 L1238.42,1076.31 L1234.41,1077.31 L1230.40,1078.18 L1226.40,1078.92 L1222.44,1079.52 L1218.53,1079.99 L1214.69,1080.33 L1210.98,1080.53 L1207.60,1080.60 L1204.22,1080.53 L1200.51,1080.33 L1196.67,1079.99 L1192.76,1079.52 L1188.80,1078.92 L1184.80,1078.18 L1180.79,1077.31 L1176.78,1076.31 L1172.77,1075.19 L1168.78,1073.93 L1164.81,1072.55 L1160.87,1071.05 L1156.97,1069.43 L1153.12,1067.69 L1149.33,1065.83 L1145.59,1063.86 L1141.92,1061.78 L1138.32,1059.59 L1134.80,1057.30 L1131.37,1054.91 L1128.02,1052.42 L1124.77,1049.84 L1121.62,1047.17 L1118.57,1044.41 L1115.63,1041.58 L1112.81,1038.67 L1110.10,1035.69 L1107.52,1032.64 L1105.07,1029.53 L1102.74,1026.36 L1100.55,1023.15 L1098.49,1019.88 L1096.57,1016.58 L1094.80,1013.25 L1093.17,1009.89 L1091.69,1006.50 L1090.36,1003.11 L1089.18,999.71 L1088.16,996.31 L1087.29,992.93 L1086.57,989.57 L1086.02,986.26 L1085.62,983.01 L1085.38,979.86 L1085.30,977.00 L1085.38,974.08 L1085.62,970.88 L1086.02,967.57 L1086.57,964.20 L1087.29,960.78 L1088.16,957.33 L1089.18,953.88 L1090.36,950.41 L1091.69,946.95 L1093.17,943.51 L1094.80,940.09 L1096.57,936.69 L1098.49,933.33 L1100.55,930.01 L1102.74,926.73 L1105.07,923.51 L1107.52,920.34 L1110.10,917.24 L1112.81,914.20 L1115.63,911.24 L1118.57,908.35 L1121.62,905.55 L1124.77,902.83 L1128.02,900.20 L1131.37,897.67 L1134.80,895.23 L1138.32,892.90 L1141.92,890.67 L1145.59,888.55 L1149.33,886.54 L1153.12,884.65 L1156.97,882.88 L1160.87,881.22 L1164.81,879.69 L1168.78,878.29 L1172.77,877.01 L1176.78,875.87 L1180.79,874.85 L1184.80,873.96 L1188.80,873.21 L1192.76,872.60 L1196.67,872.12 L1200.51,871.77 L1204.22,871.57 L1207.60,871.50 L1210.98,871.57 L1214.69,871.77 L1218.53,872.12 L1222.44,872.60 L1226.40,873.21 L1230.40,873.96 L1234.41,874.85 L1238.42,875.87 L1242.43,877.01 L1246.42,878.29 L1250.39,879.69 L1254.33,881.22 L1258.23,882.88 L1262.08,884.65 L1265.87,886.54 L1269.61,888.55 L1273.28,890.67 L1276.88,892.90 L1280.40,895.23 L1283.83,897.67 L1287.18,900.20 L1290.43,902.83 L1293.58,905.55 L1296.63,908.35 L1299.57,911.24 L1302.39,914.20 L1305.10,917.24 L1307.68,920.34 L1310.13,923.51 L1312.46,926.73 L1314.65,930.01 L1316.71,933.33 L1318.63,936.69 L1320.40,940.09 L1322.03,943.51 L1323.51,946.95 L1324.84,950.41 L1326.02,953.88 L1327.04,957.33 L1327.91,960.78 L1328.63,964.20 L1329.18,967.57 L1329.58,970.88 L1329.82,974.08 Z" fill="none" stroke="#3a3a3c" stroke-width="0.7"/>
<path d="M1326.30,977.00 L1326.22,979.76 L1325.99,982.80 L1325.60,985.93 L1325.06,989.13 L1324.37,992.37 L1323.53,995.64 L1322.53,998.92 L1321.39,1002.20 L1320.10,1005.48 L1318.66,1008.74 L1317.08,1011.99 L1315.36,1015.21 L1313.50,1018.39 L1311.50,1021.54 L1309.37,1024.65 L1307.12,1027.70 L1304.73,1030.70 L1302.23,1033.65 L1299.60,1036.52 L1296.86,1039.33 L1294.01,1042.07 L1291.05,1044.73 L1287.99,1047.31 L1284.84,1049.80 L1281.59,1052.20 L1278.26,1054.51 L1274.84,1056.72 L1271.35,1058.83 L1267.78,1060.84 L1264.16,1062.74 L1260.47,1064.53 L1256.74,1066.22 L1252.95,1067.78 L1249.13,1069.23 L1245.28,1070.56 L1241.40,1071.77 L1237.51,1072.86 L1233.62,1073.83 L1229.73,1074.66 L1225.85,1075.38 L1222.00,1075.96 L1218.20,1076.41 L1214.48,1076.74 L1210.88,1076.93 L1207.60,1077.00 L1204.32,1076.93 L1200.72,1076.74 L1197.00,1076.41 L1193.20,1075.96 L1189.35,1075.38 L1185.47,1074.66 L1181.58,1073.83 L1177.69,1072.86 L1173.80,1071.77 L1169.92,1070.56 L1166.07,1069.23 L1162.25,1067.78 L1158.46,1066.22 L1154.73,1064.53 L1151.04,1062.74 L1147.42,1060.84 L1143.85,1058.83 L1140.36,1056.72 L1136.94,1054.51 L1133.61,1052.20 L1130.36,1049.80 L1127.21,1047.31 L1124.15,1044.73 L1121.19,1042.07 L1118.34,1039.33 L1115.60,1036.52 L1112.97,1033.65 L1110.47,1030.70 L1108.08,1027.70 L1105.83,1024.65 L1103.70,1021.54 L1101.70,1018.39 L1099.84,1015.21 L1098.12,1011.99 L1096.54,1008.74 L1095.10,1005.48 L1093.81,1002.20 L1092.67,998.92 L1091.67,995.64 L1090.83,992.37 L1090.14,989.13 L1089.60,985.93 L1089.21,982.80 L1088.98,979.76 L1088.90,977.00 L1088.98,974.18 L1089.21,971.09 L1089.60,967.90 L1090.14,964.64 L1090.83,961.33 L1091.67,958.01 L1092.67,954.66 L1093.81,951.32 L1095.10,947.98 L1096.54,944.65 L1098.12,941.35 L1099.84,938.07 L1101.70,934.82 L1103.70,931.61 L1105.83,928.45 L1108.08,925.33 L1110.47,922.27 L1112.97,919.28 L1115.60,916.34 L1118.34,913.48 L1121.19,910.69 L1124.15,907.98 L1127.21,905.36 L1130.36,902.82 L1133.61,900.37 L1136.94,898.02 L1140.36,895.77 L1143.85,893.62 L1147.42,891.57 L1151.04,889.63 L1154.73,887.80 L1158.46,886.09 L1162.25,884.49 L1166.07,883.02 L1169.92,881.66 L1173.80,880.42 L1177.69,879.32 L1181.58,878.33 L1185.47,877.48 L1189.35,876.75 L1193.20,876.16 L1197.00,875.70 L1200.72,875.37 L1204.32,875.17 L1207.60,875.10 L1210.88,875.17 L1214.48,875.37 L1218.20,875.70 L1222.00,876.16 L1225.85,876.75 L1229.73,877.48 L1233.62,878.33 L1237.51,879.32 L1241.40,880.42 L1245.28,881.66 L1249.13,883.02 L1252.95,884.49 L1256.74,886.09 L1260.47,887.80 L1264.16,889.63 L1267.78,891.57 L1271.35,893.62 L1274.84,895.77 L1278.26,898.02 L1281.59,900.37 L1284.84,902.82 L1287.99,905.36 L1291.05,907.98 L1294.01,910.69 L1296.86,913.48 L1299.60,916.34 L1302.23,919.28 L1304.73,922.27 L1307.12,925.33 L1309.37,928.45 L1311.50,931.61 L1313.50,934.82 L1315.36,938.07 L1317.08,941.35 L1318.66,944.65 L1320.10,947.98 L1321.39,951.32 L1322.53,954.66 L1323.53,958.01 L1324.37,961.33 L1325.06,964.64 L1325.60,967.90 L1325.99,971.09 L1326.22,974.18 Z" fill="none" stroke="#8c8d90" stroke-width="1.8"/>
<line x1="1104.3" y1="925" x2="1104.3" y2="1026" stroke="#1e1e1e" stroke-width="1.6"/>
<line x1="1311.1" y1="923.5" x2="1311.1" y2="1025" stroke="#1e1e1e" stroke-width="1.6"/>
<path d="M1104.8,946.8 L1107.6,948 L1107.6,959.4 L1104.8,959.4" fill="none" stroke="#2a2a2a" stroke-width="0.9"/>
<path d="M1310.6,946.8 L1307.8,948 L1307.8,959.4 L1310.6,959.4" fill="none" stroke="#2a2a2a" stroke-width="0.9"/>
<line x1="1094.5" y1="1003" x2="1098.5" y2="1000.5" stroke="#1e1e1e" stroke-width="1.5"/>
<line x1="1317.5" y1="999.5" x2="1321.5" y2="1002" stroke="#1e1e1e" stroke-width="1.5"/>
<path d="M1104.5,1000.3 L1139.8,1000.3 L1207.5,1067.5 L1276.6,999.8 L1311,999.8" fill="none" stroke="#1e1e1e" stroke-width="1.8" stroke-linejoin="miter"/>
<path d="M1104.5,1003.3 L1132,1003.3" fill="none" stroke="#2e2e2e" stroke-width="0.8"/>
<path d="M1284,1003.3 L1311,1003.3" fill="none" stroke="#2e2e2e" stroke-width="0.8"/>
<circle cx="1111.0" cy="965.5" r="2.9" fill="#1e1e1e"/>
<circle cx="1111.0" cy="965.5" r="0.9" fill="#555"/>
<circle cx="1111.0" cy="987.5" r="2.9" fill="#1e1e1e"/>
<circle cx="1111.0" cy="987.5" r="0.9" fill="#555"/>
<circle cx="1304.6" cy="965.5" r="2.9" fill="#1e1e1e"/>
<circle cx="1304.6" cy="965.5" r="0.9" fill="#555"/>
<circle cx="1304.6" cy="987.5" r="2.9" fill="#1e1e1e"/>
<circle cx="1304.6" cy="987.5" r="0.9" fill="#555"/>
<circle cx="1122.6" cy="917.4" r="5.8" fill="#828386" stroke="#1e1e1e" stroke-width="1.3"/>
<circle cx="1122.6" cy="917.4" r="3.2" fill="#8a8b8e" stroke="#2a2a2a" stroke-width="0.9"/>
<circle cx="1292.4" cy="917.4" r="5.8" fill="#828386" stroke="#1e1e1e" stroke-width="1.3"/>
<circle cx="1292.4" cy="917.4" r="3.2" fill="#8a8b8e" stroke="#2a2a2a" stroke-width="0.9"/>
<circle cx="1135.1" cy="1008.7" r="5.8" fill="#828386" stroke="#1e1e1e" stroke-width="1.3"/>
<circle cx="1135.1" cy="1008.7" r="3.2" fill="#8a8b8e" stroke="#2a2a2a" stroke-width="0.9"/>
<circle cx="1279.8" cy="1009.1" r="5.8" fill="#828386" stroke="#1e1e1e" stroke-width="1.3"/>
<circle cx="1279.8" cy="1009.1" r="3.2" fill="#8a8b8e" stroke="#2a2a2a" stroke-width="0.9"/>
<circle cx="1207.9" cy="1056.3" r="5.8" fill="#828386" stroke="#1e1e1e" stroke-width="1.3"/>
<circle cx="1207.9" cy="1056.3" r="3.2" fill="#8a8b8e" stroke="#2a2a2a" stroke-width="0.9"/>
<circle cx="1207.9" cy="1056.3" r="1.9" fill="#1e1e1e"/>
<ellipse cx="1198" cy="1068" rx="3.2" ry="1.6" fill="#1e1e1e"/>
<ellipse cx="1217.5" cy="1068" rx="3.2" ry="1.6" fill="#1e1e1e"/>
<polyline points="1132.3,1022.7 1148.0,1035.7 1160.0,1047.2 1176.0,1052.0" fill="none" stroke="#1c1c1c" stroke-width="1.1"/>
<polygon points="1123.3,1012.3 1132.0,1021.5 1129.5,1027.0 1132.0,1036.5 1124.7,1044.7 1106.3,1027.7" fill="#88898c" stroke="#1c1c1c" stroke-width="1.3"/>
<polygon points="1117.5,1019.8 1123.3,1014.2 1128.8,1019.8 1125.5,1021.3 1120.5,1021.3" fill="#1c1c1c"/>
<polyline points="1110.0,1028.0 1120.5,1018.5" fill="none" stroke="#1c1c1c" stroke-width="0.9"/>
<polygon points="1131.0,1026.5 1154.0,1050.0 1153.2,1054.5 1129.5,1031.5" fill="#6f7073"/>
<line x1="1131" y1="1026.5" x2="1154" y2="1050" stroke="#1c1c1c" stroke-width="1.8"/>
<line x1="1129.5" y1="1031.5" x2="1153.2" y2="1054.5" stroke="#1c1c1c" stroke-width="1.8"/>
<circle cx="1119.3" cy="1030.7" r="6" fill="#8e8f92" stroke="#1c1c1c" stroke-width="1.3"/>
<path d="M1153.2,1069 L1153.2,1052 L1162,1052 L1162,1057" fill="none" stroke="#1c1c1c" stroke-width="1.3"/>
<path d="M1156.2,1053 L1156.2,1066 Q1156.2,1071.5 1161.5,1071.5 L1182.2,1071.5" fill="none" stroke="#1c1c1c" stroke-width="1.2"/>
<circle cx="1161.8" cy="1063.2" r="5.2" fill="#8f9093" stroke="#1c1c1c" stroke-width="1.3"/>
<path d="M1175.2,1052 L1182.2,1053 L1182.2,1079" fill="none" stroke="#1c1c1c" stroke-width="1.3"/>
<line x1="1167" y1="1065.6" x2="1182.2" y2="1065.6" stroke="#1c1c1c" stroke-width="2"/>
<line x1="1166" y1="1068.3" x2="1182.2" y2="1068.3" stroke="#1c1c1c" stroke-width="1"/>
<polygon points="1292.1,1012.3 1283.4,1021.5 1285.9,1027.0 1283.4,1036.5 1290.7,1044.7 1309.1,1027.7" fill="#88898c" stroke="#1c1c1c" stroke-width="1.3"/>
<polygon points="1297.9,1019.8 1292.1,1014.2 1286.6,1019.8 1289.9,1021.3 1294.9,1021.3" fill="#1c1c1c"/>
<line x1="1286" y1="1036" x2="1281" y2="1046" stroke="#1c1c1c" stroke-width="1.6"/>
<circle cx="1295.7" cy="1030.6" r="6" fill="#8e8f92" stroke="#1c1c1c" stroke-width="1.3"/>
<path d="M1233.1,1078.5 L1233.1,1052.9 L1239.2,1052.4 Q1252,1046 1260.7,1041.7 L1275.6,1030" fill="none" stroke="#1c1c1c" stroke-width="1.2"/>
<g transform="translate(1267,1056) rotate(-24)"><rect x="-25" y="-5.2" width="48" height="10.4" fill="#858689" stroke="#1c1c1c" stroke-width="1.3"/><rect x="-3" y="-5.2" width="3.4" height="10.4" fill="#1c1c1c"/><rect x="-12" y="-5.2" width="4" height="2.2" fill="#1c1c1c"/></g>
<circle cx="1253.4" cy="1062.7" r="5.8" fill="#8f9093" stroke="#1c1c1c" stroke-width="1.3"/>
<circle cx="1275.6" cy="1043.1" r="2.7" fill="#1c1c1c"/>
<path d="M1233.5,1066 L1240,1064 L1242,1070 L1235.5,1072 Z" fill="#8d8e91" stroke="#1c1c1c" stroke-width="1"/>
<circle cx="1208" cy="992.5" r="25.3" fill="url(#gHole)" stroke="#1e1e1e" stroke-width="1.3"/>
<g transform="translate(1323,908.1) rotate(-40)"><rect x="-20" y="-3.4" width="15.5" height="6.8" fill="#d9dadc" stroke="#1a1a1a" stroke-width="1.2"/><circle cx="0" cy="0" r="4.5" fill="#dedfe1" stroke="#1a1a1a" stroke-width="2.6"/></g>
<g transform="translate(1296.9,1068.6) rotate(52)"><rect x="-15" y="-2" width="10.5" height="4" fill="#dcdde0" stroke="#1a1a1a" stroke-width="1.1"/><rect x="-5.2" y="-3.9" width="10.4" height="7.8" rx="0.8" fill="#e0e1e3" stroke="#1a1a1a" stroke-width="1.2"/></g>
</g>
<line x1="1034.7" y1="869.0" x2="1412" y2="869.0" stroke="#333333" stroke-width="1.0"/>
<line x1="1034.7" y1="917.4" x2="1104.8" y2="917.4" stroke="#333333" stroke-width="1.0"/>
<line x1="1034.7" y1="1008.2" x2="1129" y2="1008.2" stroke="#333333" stroke-width="1.0"/>
<line x1="1034.7" y1="1030.1" x2="1113.5" y2="1030.1" stroke="#333333" stroke-width="1.0"/>
<line x1="1310" y1="1030.1" x2="1412" y2="1030.1" stroke="#333333" stroke-width="1.0"/>
<line x1="1034.7" y1="1082.4" x2="1205" y2="1082.4" stroke="#333333" stroke-width="1.0"/>
<line x1="1080" y1="1062.4" x2="1161" y2="1062.4" stroke="#333333" stroke-width="1.0"/>
<line x1="1208" y1="992.4" x2="1377.3" y2="992.4" stroke="#333333" stroke-width="1.0"/>
<line x1="1122.2" y1="830" x2="1122.2" y2="899" stroke="#333333" stroke-width="1.0"/>
<line x1="1292.9" y1="830" x2="1292.9" y2="899" stroke="#333333" stroke-width="1.0"/>
<line x1="1119.7" y1="1030.6" x2="1119.7" y2="1159.3" stroke="#333333" stroke-width="1.0"/>
<line x1="1294.9" y1="1030.6" x2="1294.9" y2="1159.3" stroke="#333333" stroke-width="1.0"/>
<line x1="1161.5" y1="1062.8" x2="1161.5" y2="1126" stroke="#333333" stroke-width="1.0"/>
<line x1="1253.2" y1="1062.8" x2="1253.2" y2="1126" stroke="#333333" stroke-width="1.0"/>
<line x1="1182.0" y1="936" x2="1182.0" y2="992" stroke="#333333" stroke-width="1.0"/>
<line x1="1233.1" y1="936" x2="1233.1" y2="992" stroke="#333333" stroke-width="1.0"/>
<line x1="1122.7" y1="848.7" x2="1292.4" y2="848.7" stroke="#333333" stroke-width="1.0"/>
<path d="M1122.70,848.70L1130.70,845.30L1130.70,852.10Z" fill="#1e1e1e"/>
<path d="M1292.40,848.70L1284.40,852.10L1284.40,845.30Z" fill="#1e1e1e"/>
<line x1="1054.7" y1="869.4" x2="1054.7" y2="917.0" stroke="#333333" stroke-width="1.0"/>
<path d="M1054.70,869.40L1058.10,877.40L1051.30,877.40Z" fill="#1e1e1e"/>
<path d="M1054.70,917.00L1051.30,909.00L1058.10,909.00Z" fill="#1e1e1e"/>
<line x1="1054.7" y1="917.8" x2="1054.7" y2="1007.8" stroke="#333333" stroke-width="1.0"/>
<path d="M1054.70,917.80L1058.10,925.80L1051.30,925.80Z" fill="#1e1e1e"/>
<path d="M1054.70,1007.80L1051.30,999.80L1058.10,999.80Z" fill="#1e1e1e"/>
<line x1="1054.7" y1="1030.5" x2="1054.7" y2="1082.0" stroke="#333333" stroke-width="1.0"/>
<path d="M1054.70,1030.50L1058.10,1038.50L1051.30,1038.50Z" fill="#1e1e1e"/>
<path d="M1054.70,1082.00L1051.30,1074.00L1058.10,1074.00Z" fill="#1e1e1e"/>
<line x1="1087.5" y1="1040" x2="1087.5" y2="1122" stroke="#333333" stroke-width="1.0"/>
<path d="M1087.50,1062.00L1084.10,1054.00L1090.90,1054.00Z" fill="#1e1e1e"/>
<path d="M1087.50,1082.80L1090.90,1090.80L1084.10,1090.80Z" fill="#1e1e1e"/>
<line x1="1364.0" y1="869.4" x2="1364.0" y2="992.0" stroke="#333333" stroke-width="1.0"/>
<path d="M1364.00,869.40L1367.40,877.40L1360.60,877.40Z" fill="#1e1e1e"/>
<path d="M1364.00,992.00L1360.60,984.00L1367.40,984.00Z" fill="#1e1e1e"/>
<line x1="1397.3" y1="869.4" x2="1397.3" y2="1029.7" stroke="#333333" stroke-width="1.0"/>
<path d="M1397.30,869.40L1400.70,877.40L1393.90,877.40Z" fill="#1e1e1e"/>
<path d="M1397.30,1029.70L1393.90,1021.70L1400.70,1021.70Z" fill="#1e1e1e"/>
<line x1="1182.5" y1="951.4" x2="1232.6" y2="951.4" stroke="#333333" stroke-width="1.0"/>
<path d="M1182.50,951.40L1190.50,948.00L1190.50,954.80Z" fill="#1e1e1e"/>
<path d="M1232.60,951.40L1224.60,954.80L1224.60,948.00Z" fill="#1e1e1e"/>
<line x1="1162.0" y1="1115.3" x2="1252.7" y2="1115.3" stroke="#333333" stroke-width="1.0"/>
<path d="M1162.00,1115.30L1170.00,1111.90L1170.00,1118.70Z" fill="#1e1e1e"/>
<path d="M1252.70,1115.30L1244.70,1118.70L1244.70,1111.90Z" fill="#1e1e1e"/>
<line x1="1120.2" y1="1146.5" x2="1294.4" y2="1146.5" stroke="#333333" stroke-width="1.0"/>
<path d="M1120.20,1146.50L1128.20,1143.10L1128.20,1149.90Z" fill="#1e1e1e"/>
<path d="M1294.40,1146.50L1286.40,1149.90L1286.40,1143.10Z" fill="#1e1e1e"/>
<text x="1208.0" y="841.0" text-anchor="middle" font-size="17.4">400</text>
<text x="1208.0" y="943.9" text-anchor="middle" font-size="17.4" textLength="44.6" lengthAdjust="spacingAndGlyphs">Ø 120</text>
<text x="1207.5" y="1108.1" text-anchor="middle" font-size="17.4">208</text>
<text x="1208.0" y="1138.5" text-anchor="middle" font-size="17.4">415</text>
<text transform="translate(1050.7,893.3) rotate(-90)" text-anchor="middle" font-size="17.4">113</text>
<text transform="translate(1050.7,963.3) rotate(-90)" text-anchor="middle" font-size="17.4">215</text>
<text transform="translate(1050.7,1055.7) rotate(-90)" text-anchor="middle" font-size="17.4">123</text>
<text transform="translate(1080.0,1106.0) rotate(-90)" text-anchor="middle" font-size="17.4">51</text>
<text transform="translate(1357.3,930.0) rotate(-90)" text-anchor="middle" font-size="17.4">290</text>
<text transform="translate(1390.7,949.3) rotate(-90)" text-anchor="middle" font-size="17.4">379</text>
</svg></body></html>
